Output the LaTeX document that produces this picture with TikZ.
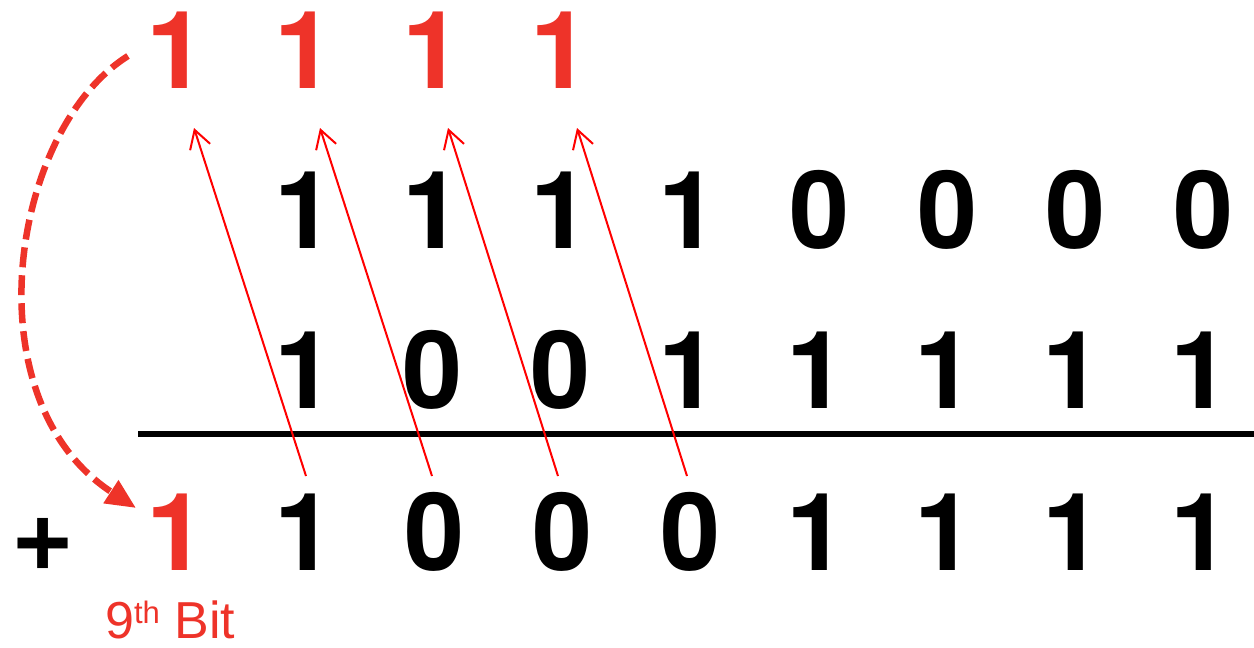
\documentclass[tikz,border=0pt]{standalone}
\usepackage{fontspec}
\setmainfont{Liberation Sans}
\newfontfamily\digfont{TeX Gyre Heros}
\usetikzlibrary{arrows.meta}
\definecolor{digred}{RGB}{238,51,41}
\definecolor{arrred}{RGB}{255,0,0}
\tikzset{
  dig/.style={font=\digfont\fontsize{108}{108}\selectfont\bfseries, anchor=base, inner sep=0pt},
  rdig/.style={dig, text=digred},
  carry/.style={draw=arrred, line width=2pt, -{Straight Barb[length=18pt,width=21pt,line width=2pt]}},
  wrap/.style={draw=digred, line width=6.5pt, dash pattern=on 20pt off 8pt, -{Triangle[length=30pt,width=26pt]}}
}
\begin{document}
\begin{tikzpicture}[x=1pt,y=-1pt]
\useasboundingbox (0,0) rectangle (1254,648);
% carry row
\foreach \i/\x in {0/177,1/305,2/433,3/561}
  \node[rdig] (c\i) at (\x,88) {1};
% first operand
\foreach \i/\x/\d in {1/305/1,2/433/1,3/561/1,4/689/1,5/820/0,6/948/0,7/1076/0,8/1204/0}
  \node[dig] (a\i) at (\x,248) {\d};
% second operand
\foreach \i/\x/\d in {1/305/1,2/433/0,3/561/0,4/689/1,5/817/1,6/945/1,7/1073/1,8/1201/1}
  \node[dig] (b\i) at (\x,408) {\d};
% rule
\coordinate (r1) at (138,434);
\coordinate (r2) at (1254,434);
\draw[line width=5.5pt] (r1) -- (r2);
% result
\node[dig] (plus) at (43,570) {+};
\node[rdig] (s0) at (177,570) {1};
\foreach \i/\x/\d in {1/305/1,2/435/0,3/563/0,4/691/0,5/817/1,6/945/1,7/1073/1,8/1201/1}
  \node[dig] (s\i) at (\x,570) {\d};
\node[anchor=base west, inner sep=0pt, text=digred, font=\fontsize{52}{52}\selectfont] (ninth) at (105,638) {9\raisebox{15pt}{\fontsize{31}{31}\selectfont th} Bit};
% carry arrows
\foreach \i/\xs/\xt in {0/306/194,1/432/320,2/558/448,3/687/577}{
  \coordinate (f\i) at (\xs,476);
  \coordinate (t\i) at (\xt,128);
  \draw[carry] (f\i) -- (t\i);
}
% wrap-around dashed arrow
\coordinate (w1) at (128,56);
\coordinate (w2) at (136,508);
\draw[wrap] (w1) .. controls (10,130) and (-30,400) .. (w2);
\end{tikzpicture}
\end{document}
